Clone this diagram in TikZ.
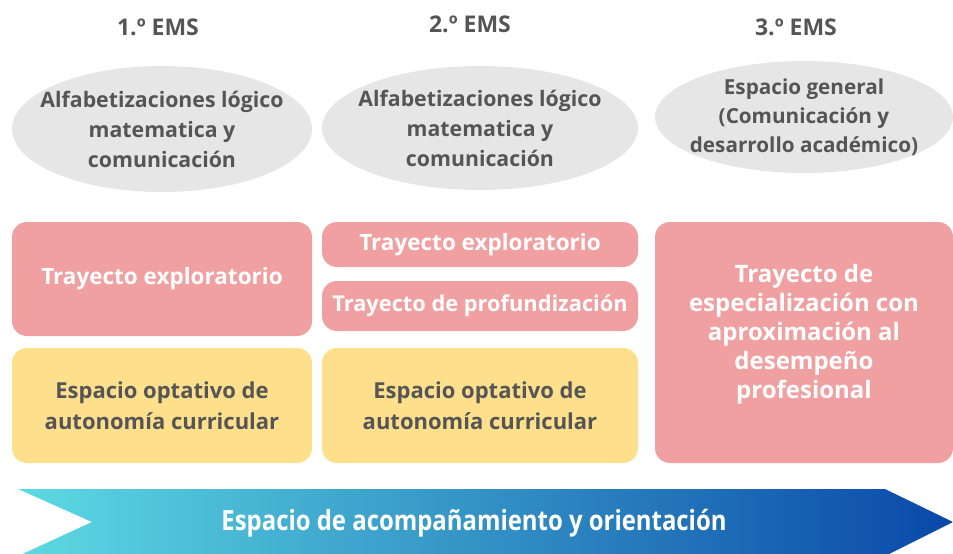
\documentclass[tikz,border=0pt]{standalone}
\usepackage{fontspec}
\setmainfont{Open Sans}
\newfontfamily\bandfont{Open Sans}[FakeStretch=0.86]
\usetikzlibrary{shapes.geometric}

\definecolor{headgray}{HTML}{555555}
\definecolor{ovalfill}{HTML}{E6E6E6}
\definecolor{trayfill}{HTML}{F0A0A0}
\definecolor{optfill}{HTML}{FEDF8C}
\definecolor{bandleft}{HTML}{5CDAE2}
\definecolor{bandright}{HTML}{0A48A8}

\tikzset{
  head/.style={text=headgray,font=\bfseries\fontsize{23}{27}\selectfont},
  oval/.style={ellipse,fill=ovalfill,inner xsep=-40pt,inner ysep=-30pt,align=center,
    text=headgray,font=\bfseries\fontsize{21.3}{30}\selectfont},
  traybox/.style={rectangle,rounded corners=15pt,fill=trayfill,inner sep=0pt,
    align=center,text=white,font=\bfseries\fontsize{22.5}{29}\selectfont},
  optbox/.style={rectangle,rounded corners=15pt,fill=optfill,inner sep=0pt,
    align=center,text=headgray,font=\bfseries\fontsize{22}{31}\selectfont},
}

\begin{document}
\begin{tikzpicture}[x=1pt,y=-1pt]
        \useasboundingbox (0,0) rectangle (953,554);

        % column titles
        \node[head] (h1) at (158,27) {1.º EMS};
        \node[head] (h2) at (470,24) {2.º EMS};
        \node[head] (h3) at (796,27) {3.º EMS};

        % general spaces
        \node[oval,minimum width=300,minimum height=126] (g1) at (162,129)
          {Alfabetizaciones lógico\\matematica y\\comunicación};
        \node[oval,minimum width=316,minimum height=124] (g2) at (480,128)
          {Alfabetizaciones lógico\\matematica y\\comunicación};
        \node[oval,minimum width=298,minimum height=112,font=\bfseries\fontsize{20.7}{29}\selectfont] (g3) at (804,117)
          {Espacio general\\(Comunicación y\\desarrollo académico)};

        % trayectos
        \node[traybox,minimum width=300,minimum height=114] (t1) at (162,279)
          {Trayecto exploratorio};
        \node[traybox,minimum width=316,minimum height=45] (t2a) at (480,244.5)
          {Trayecto exploratorio};
        \node[traybox,minimum width=316,minimum height=50,font=\bfseries\fontsize{21.8}{29}\selectfont] (t2b) at (480,306)
          {Trayecto de profundización};
        \node[traybox,minimum width=298,minimum height=241] (t3) at (804,342.5) {};
        \node[text=white,align=center,font=\bfseries\fontsize{24}{29}\selectfont] (t3txt) at (804,334)
          {Trayecto de\\especialización con\\aproximación al\\desempeño\\profesional};

        % optativos
        \node[optbox,minimum width=300,minimum height=115] (o1) at (162,405.5)
          {Espacio optativo de\\autonomía curricular};
        \node[optbox,minimum width=316,minimum height=115] (o2) at (480,405.5)
          {Espacio optativo de\\autonomía curricular};

        % band
        \coordinate (bl) at (18,489);
        \coordinate (bn) at (92,522);
        \coordinate (br) at (885,489);
        \coordinate (bt) at (953,522);
        \begin{scope}
          \clip (bl) -- (br) -- (bt) -- (885,556) -- (18,556) -- (bn) -- cycle;
          \shade[left color=bandleft,right color=bandright] (18,489) rectangle (953,556);
        \end{scope}
        \node[text=white,font=\bandfont\bfseries\fontsize{27.8}{31}\selectfont] (band) at (474,523)
          {Espacio de acompañamiento y orientación};

      \end{tikzpicture}
\end{document}
